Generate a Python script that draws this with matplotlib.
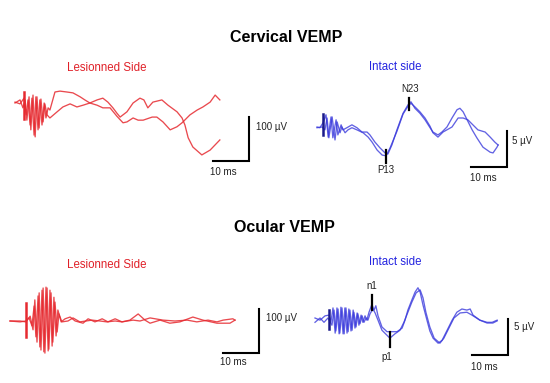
import matplotlib.pyplot as plt

plt.rcParams['font.family'] = ['Liberation Sans', 'DejaVu Sans']

W, H = 550, 383
RED = '#e62a30'
BLUE = '#3b3bdc'
TXT = '#222222'

# --- Cervical VEMP, lesioned side (ms, µV) ---
cerv_les_t1 = [0, 1.4, 2.5, 3.1, 3.6, 4.2, 4.7, 5.3, 5.8, 6.4, 6.9, 7.5, 8.1, 8.6, 9.2, 9.7,
               11.1, 12.5, 14.4, 16.1, 18.1, 19.4, 20.8, 22.8, 24.4, 26.4, 28.3, 30.0, 31.1, 32.8,
               34.2, 35.6, 38.1, 39.4, 41.1, 43.1, 45.0, 46.4, 48.6, 50.6, 52.2, 54.2, 55.6, 56.9]
cerv_les_v1 = [2, -2, 11, -27, 7, -50, 11, -73, 14, -61, 7, -50, 0, -34, -11, -16,
               25, 27, 25, 23, 14, 7, 0, -5, -11, -11, -30, -45, -43, -34,
               -39, -39, -32, -32, -43, -61, -54, -45, -27, -16, -9, 2, 18, 7]
cerv_les_t2 = [0, 1.4, 2.2, 2.8, 3.3, 3.9, 4.4, 5.0, 5.6, 6.1, 6.7, 7.2, 7.8, 8.3, 8.9, 9.7,
               11.7, 13.3, 15.3, 17.2, 18.9, 20.8, 22.8, 24.4, 25.8, 27.2, 28.3, 29.2, 31.1, 32.8,
               34.7, 35.8, 36.9, 38.3, 40.8, 42.5, 45.0, 46.4, 47.2, 48.1, 49.4, 51.9, 54.2, 56.9]
cerv_les_v2 = [0, 7, -11, 7, -39, 14, -61, 18, -77, 14, -57, 9, -43, -2, -27, -34,
               -20, -9, -2, -9, -5, 0, 7, 11, 2, -11, -23, -32, -20, 0,
               11, 7, -11, 2, 7, -5, -20, -34, -50, -79, -100, -118, -107, -84]

# --- Cervical VEMP, intact side (ms, µV) ---
cerv_int_t1 = [0, 0.8, 1.7, 2.5, 3.1, 3.9, 4.4, 5.3, 5.8, 6.7, 7.2, 8.3, 9.7, 11.1, 12.5, 13.9,
               14.7, 16.1, 17.5, 18.9, 19.7, 20.8, 22.2, 23.9, 25.3, 26.1, 27.2, 28.6, 30.0, 31.4,
               32.2, 33.6, 34.7, 36.1, 37.5, 38.9, 39.7, 40.6, 41.7, 43.1, 44.4, 46.1, 48.1, 48.9,
               50.0, 50.3]
cerv_int_v1 = [0, -0.1, 0.6, 1.7, -1.4, 1.4, -1.5, 1.0, -1.1, 0.3, -0.4, -0.1, 0.3, -0.1, -0.7, -0.7,
               -1.1, -2.1, -2.9, -3.6, -3.75, -2.5, -0.4, 1.9, 3.1, 3.5, 2.6, 1.9, 1.0, -0.1,
               -0.7, -1.1, -0.7, 0, 1.25, 2.4, 2.6, 2.1, 1.0, -0.4, -1.5, -2.8, -3.5, -3.6,
               -2.8, -2.5]
cerv_int_t2 = [0, 1.4, 2.2, 2.8, 3.3, 4.2, 5.0, 5.6, 6.4, 6.9, 7.8, 8.6, 9.7, 11.1, 12.8, 14.2,
               15.3, 16.7, 18.1, 19.2, 20.3, 22.2, 23.9, 25.3, 26.1, 27.2, 28.6, 30.0, 31.4, 32.2,
               33.6, 35.0, 37.5, 39.2, 40.6, 41.9, 43.3, 44.7, 46.7, 48.1, 49.4, 50.3]
cerv_int_v2 = [-0.1, 0, -0.4, 1.25, -1.5, 1.4, -1.8, 0.7, -0.8, 0, -0.8, -0.4, -0.1, -0.4, -0.8, -1.4,
               -2.1, -3.2, -3.9, -4.0, -2.9, -0.6, 1.8, 2.9, 3.3, 2.8, 2.1, 1.25, 0.1, -0.8,
               -1.4, -0.7, 0, 1.25, 1.25, 1.0, 0.3, -0.4, -0.7, -1.4, -2.1, -2.5]

# --- Ocular VEMP, lesioned side (ms, µV) ---
ocul_les_t1 = [0, 2.8, 4.4, 5.3, 6.1, 6.7, 7.2, 7.8, 8.3, 8.9, 9.4, 10.0, 10.6, 11.1, 11.7, 12.2,
               12.8, 13.3, 14.2, 15.3, 16.7, 18.1, 20.3, 21.7, 23.6, 25.6, 27.2, 29.2, 31.1, 33.3,
               35.6, 37.5, 38.9, 41.7, 44.4, 47.2, 50.8, 53.6, 57.5, 61.1, 62.5]
ocul_les_v1 = [0, -2, 0, 7, -11, 34, -36, 57, -59, 70, -70, 77, -68, 70, -57, 54,
               -34, 25, -2, 5, 9, 0, -5, 5, -2, 5, -2, 5, -2, 2,
               16, 2, -5, 2, -5, -2, 9, 2, -5, -5, 2]
ocul_les_t2 = [0, 2.8, 4.4, 5.6, 6.4, 6.9, 7.5, 8.1, 8.6, 9.2, 9.7, 10.3, 10.8, 11.4, 11.9, 12.5,
               13.1, 13.6, 14.4, 16.1, 17.5, 19.4, 21.1, 22.8, 25.0, 26.9, 29.2, 31.1, 34.2, 36.1,
               38.9, 42.5, 45.8, 49.2, 51.9, 55.0, 57.5, 59.2, 61.9, 62.5]
ocul_les_v2 = [0, 0, -2, 11, -20, 48, -48, 64, -66, 75, -73, 75, -64, 64, -48, 43,
               -25, 16, -2, 0, 7, -2, 0, 2, 0, -2, 0, -2, 2, 0,
               7, 2, 0, 2, -2, 2, -2, 2, 5, 2]

# --- Ocular VEMP, intact side (ms, µV) ---
ocul_int_t1 = [0, 1.4, 2.8, 3.9, 4.4, 5.0, 5.6, 6.1, 6.7, 7.2, 7.8, 8.3, 8.9, 9.4, 10.0, 10.6,
               11.1, 11.7, 12.2, 12.8, 13.3, 13.9, 14.4, 15.0, 15.8, 16.4, 16.9, 17.5, 18.6, 20.0,
               21.4, 22.8, 24.2, 25.0, 25.8, 26.9, 27.8, 28.6, 29.2, 30.0, 31.1, 31.9, 32.8, 34.2,
               35.3, 36.7, 38.1, 39.4, 40.8, 42.2, 43.1, 43.9, 45.8, 47.8, 49.2, 50.6]
ocul_int_v1 = [0, -0.3, 0.3, 0.4, -0.6, 1.4, -2.1, 1.4, -2.2, 1.5, -2.2, 1.4, -2.1, 1.25, -1.8, 1.1,
               -1.4, 0.7, -1.0, 0.4, -0.6, 0.3, -0.3, 0.8, 1.9, 1.1, 1.7, 0.3, -1.25, -1.9,
               -1.9, -1.9, -1.4, -0.3, 1.1, 2.5, 3.6, 4.2, 3.6, 1.8, -0.3, -1.8, -2.8, -3.5,
               -3.1, -1.7, -0.3, 0.8, 1.25, 1.1, 1.25, 0.4, -0.3, -0.6, -0.6, -0.3]
ocul_int_t2 = [0, 1.4, 2.5, 3.6, 4.7, 5.3, 5.8, 6.4, 6.9, 7.5, 8.1, 8.6, 9.2, 9.7, 10.3, 10.8,
               11.4, 11.9, 12.5, 13.1, 13.6, 14.2, 14.7, 15.3, 16.1, 16.7, 17.5, 18.6, 20.0, 20.8,
               22.2, 23.6, 24.7, 25.8, 26.9, 28.1, 29.2, 30.0, 30.8, 31.9, 33.1, 34.7, 35.8, 37.2,
               38.6, 40.3, 42.2, 43.6, 45.8, 47.8, 49.4, 50.6]
ocul_int_v2 = [-0.6, 0, -0.6, 0, -1.0, 1.1, -1.8, 1.25, -2.1, 1.4, -2.2, 1.4, -1.9, 1.1, -1.7, 0.8,
               -1.25, 0.6, -0.8, 0.3, -0.6, 0, -0.3, 0.6, 1.25, 0.7, -0.3, -1.7, -2.4, -2.8,
               -2.2, -1.7, -0.6, 0.8, 2.2, 3.5, 3.9, 2.8, 0.8, -1.25, -2.8, -3.5, -2.8, -1.4,
               0, 0.7, 0.8, 0.4, -0.3, -0.7, -0.7, -0.4]

fig = plt.figure(figsize=(W / 100, H / 100), dpi=100)


def make_panel(box, x0, y0, px_ms=3.6, px_uv=1.0):
    # box in pixels (left, top, right, bottom); x0, y0 = pixel of trace origin
    l, t, r, b = box
    ax = fig.add_axes([l / W, 1 - b / H, (r - l) / W, (b - t) / H])
    ax.set_xlim((l - x0) / px_ms, (r - x0) / px_ms)
    ax.set_ylim((y0 - b) / px_uv, (y0 - t) / px_uv)
    ax.axis('off')
    return ax


def scale_bar(ax, t, v, amp):
    ax.plot([t - 10, t, t], [v, v, v + amp], color='k', lw=1.5, clip_on=False,
            solid_joinstyle='miter')


def marker(ax, t, v1, v2, col='k', lw=1.6):
    ax.plot([t, t], [v1, v2], color=col, lw=lw, clip_on=False)


def trace(ax, t, v, col, a):
    ax.plot(t, v, color=col, lw=0.95, alpha=a, solid_joinstyle='round', clip_on=False)


# Cervical lesioned
ax1 = make_panel((0, 50, 275, 200), 15, 103, px_uv=0.44)
trace(ax1, cerv_les_t1, cerv_les_v1, RED, 0.85)
trace(ax1, cerv_les_t2, cerv_les_v2, RED, 0.85)
marker(ax1, 2.6, -36, 25, RED, 1.8)
scale_bar(ax1, 65, -132, 100)
ax1.text(66.9, -54, '100 µV', fontsize=7, color=TXT, va='center', ha='left')
ax1.text(57.8, -157, '10 ms', fontsize=7, color=TXT, va='center', ha='center')

# Cervical intact
ax2 = make_panel((290, 50, 550, 200), 317, 127, px_uv=7.2)
trace(ax2, cerv_int_t1, cerv_int_v1, BLUE, 0.8)
trace(ax2, cerv_int_t2, cerv_int_v2, BLUE, 0.8)
marker(ax2, 1.7, -1.1, 1.8, '#1a1a8a', 1.8)
marker(ax2, 19.2, -3.2, -5.0)
marker(ax2, 25.6, 2.4, 4.0)
ax2.text(19.2, -6.0, 'P13', fontsize=7, color=TXT, va='center', ha='center')
ax2.text(25.9, 5.3, 'N23', fontsize=7, color=TXT, va='center', ha='center')
scale_bar(ax2, 52.8, -5.6, 5)
ax2.text(54.2, -1.9, '5 µV', fontsize=7, color=TXT, va='center', ha='left')
ax2.text(46.1, -7.1, '10 ms', fontsize=7, color=TXT, va='center', ha='center')

# Ocular lesioned
ax3 = make_panel((0, 250, 275, 383), 10, 321, px_uv=0.44)
trace(ax3, ocul_les_t1, ocul_les_v1, RED, 0.85)
trace(ax3, ocul_les_t2, ocul_les_v2, RED, 0.85)
marker(ax3, 4.4, -36, 41, RED, 1.8)
scale_bar(ax3, 69.2, -72.6, 100)
ax3.text(71.1, 7, '100 µV', fontsize=7, color=TXT, va='center', ha='left')
ax3.text(61.9, -93, '10 ms', fontsize=7, color=TXT, va='center', ha='center')

# Ocular intact
ax4 = make_panel((290, 250, 550, 383), 315, 318, px_uv=7.2)
trace(ax4, ocul_int_t1, ocul_int_v1, BLUE, 0.8)
trace(ax4, ocul_int_t2, ocul_int_v2, BLUE, 0.8)
marker(ax4, 3.9, -1.5, 1.1, '#1a1a8a', 1.8)
marker(ax4, 15.8, 1.1, 3.2)
marker(ax4, 20.8, -1.9, -4.0)
ax4.text(15.8, 4.4, 'n1', fontsize=7, color=TXT, va='center', ha='center')
ax4.text(20.0, -5.4, 'p1', fontsize=7, color=TXT, va='center', ha='center')
scale_bar(ax4, 53.6, -5.1, 5)
ax4.text(55.3, -1.25, '5 µV', fontsize=7, color=TXT, va='center', ha='left')
ax4.text(46.9, -6.8, '10 ms', fontsize=7, color=TXT, va='center', ha='center')

# titles and side labels
fig.text(286 / W, 1 - 38 / H, 'Cervical VEMP', fontsize=11.5, fontweight='bold', ha='center', va='center')
fig.text(284 / W, 1 - 228 / H, 'Ocular VEMP', fontsize=11.5, fontweight='bold', ha='center', va='center')
fig.text(107 / W, 1 - 68 / H, 'Lesionned Side', fontsize=8.3, color='#e02028', ha='center', va='center')
fig.text(395 / W, 1 - 67 / H, 'Intact side', fontsize=8.3, color='#2424e0', ha='center', va='center')
fig.text(107 / W, 1 - 265 / H, 'Lesionned Side', fontsize=8.3, color='#e02028', ha='center', va='center')
fig.text(395 / W, 1 - 262 / H, 'Intact side', fontsize=8.3, color='#2424e0', ha='center', va='center')

fig.savefig('out.png', dpi=100)
